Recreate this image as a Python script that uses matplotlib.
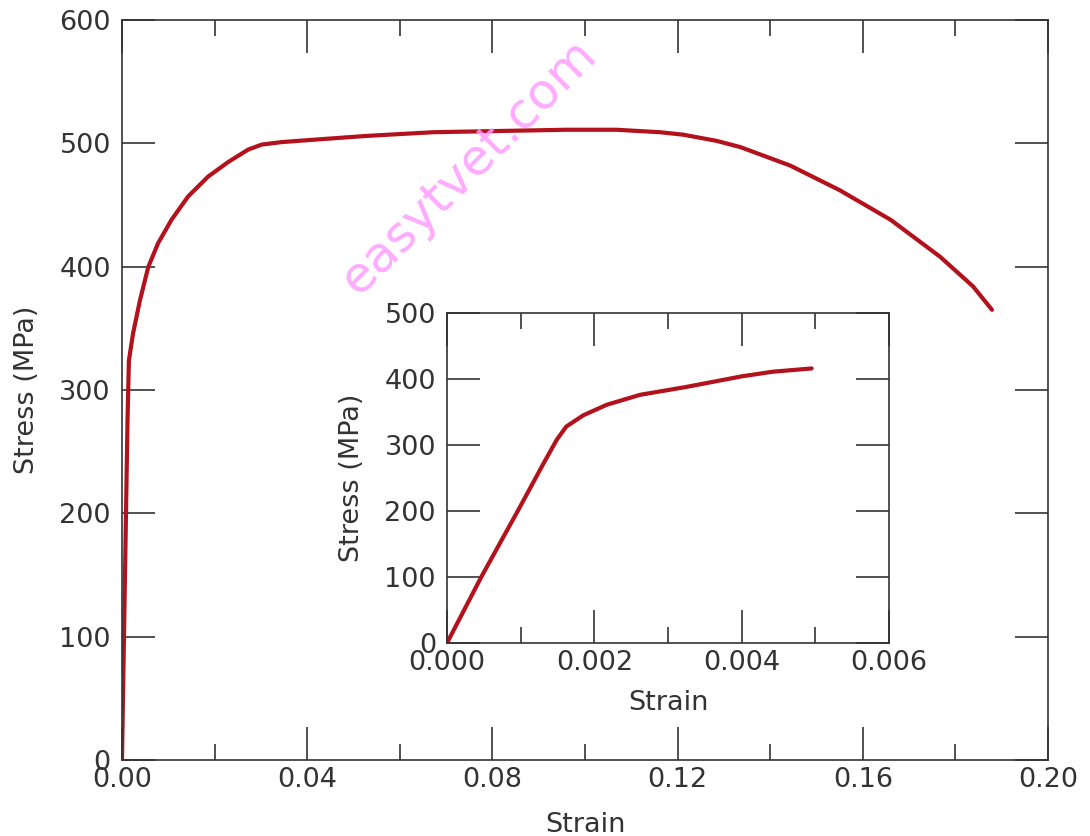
import matplotlib.pyplot as plt
from matplotlib.ticker import MultipleLocator

# main stress-strain curve
strain = [0, 0.0012, 0.0015, 0.0024, 0.0039, 0.0057, 0.0078, 0.0107, 0.0143,
          0.0186, 0.0230, 0.0273, 0.0302, 0.0345, 0.0417, 0.0528, 0.0672,
          0.0816, 0.0960, 0.1068, 0.1162, 0.1212, 0.1284, 0.1335, 0.1443,
          0.155, 0.166, 0.1767, 0.1838, 0.1879]
stress = [0, 276, 324, 346, 373, 400, 419, 438, 457,
          473, 485, 495, 499, 501, 503, 506, 509,
          510, 511, 511, 509, 507, 502, 497, 482,
          462, 438, 408, 384, 365]

# inset: initial part of the curve
strain_in = [0, 0.00047, 0.00097, 0.00131, 0.00149, 0.00162, 0.00185,
             0.00217, 0.00262, 0.00325, 0.004, 0.00442, 0.00495]
stress_in = [0, 101, 202, 272, 308, 328, 345, 361, 376, 388, 404, 411, 416]

red = "#b3121c"
dark = "#333333"
plt.rcParams['font.size'] = 19.5
plt.rcParams['text.color'] = dark
plt.rcParams['axes.labelcolor'] = dark

fig = plt.figure(figsize=(10.9, 8.36), dpi=100)
ax = fig.add_axes([0.1119, 0.0909, 0.8496, 0.8852])
ax.plot(strain, stress, color=red, lw=3, solid_joinstyle='round', solid_capstyle='round')
ax.set_xlim(0, 0.20)
ax.set_ylim(0, 600)
ax.xaxis.set_major_locator(MultipleLocator(0.04))
ax.xaxis.set_minor_locator(MultipleLocator(0.02))
ax.yaxis.set_major_locator(MultipleLocator(100))
ax.xaxis.set_major_formatter(plt.FuncFormatter(lambda v, p: f"{v:.2f}"))
ax.set_xlabel("Strain")
ax.set_ylabel("Stress (MPa)")
ax.xaxis.set_label_coords(0.5, -0.070)
ax.yaxis.set_label_coords(-0.089, 0.5)

ins = fig.add_axes([0.4101, 0.2309, 0.4055, 0.3947])
ins.plot(strain_in, stress_in, color=red, lw=3, solid_joinstyle='round', solid_capstyle='round')
ins.set_xlim(0, 0.006)
ins.set_ylim(0, 500)
ins.xaxis.set_major_locator(MultipleLocator(0.002))
ins.xaxis.set_minor_locator(MultipleLocator(0.001))
ins.yaxis.set_major_locator(MultipleLocator(100))
ins.xaxis.set_major_formatter(plt.FuncFormatter(lambda v, p: f"{v:.3f}"))
ins.set_xlabel("Strain")
ins.set_ylabel("Stress (MPa)")
ins.xaxis.set_label_coords(0.5, -0.142)
ins.yaxis.set_label_coords(-0.186, 0.5)

for a in (ax, ins):
    for s in a.spines.values():
        s.set_color(dark)
        s.set_linewidth(1.2)
    a.tick_params(which='both', direction='in', top=True, right=True,
                  color=dark, width=1.2, labelcolor=dark)
    a.tick_params(which='major', length=24)
    a.tick_params(which='minor', length=11.5)
    a.tick_params(axis='x', pad=5)
    a.tick_params(axis='y', pad=8)

fig.text(0.43, 0.80, "easytvet.com", color="#ff9cff", fontsize=36,
         rotation=45, ha='center', va='center', alpha=0.85)

plt.savefig("out.png", dpi=100)
